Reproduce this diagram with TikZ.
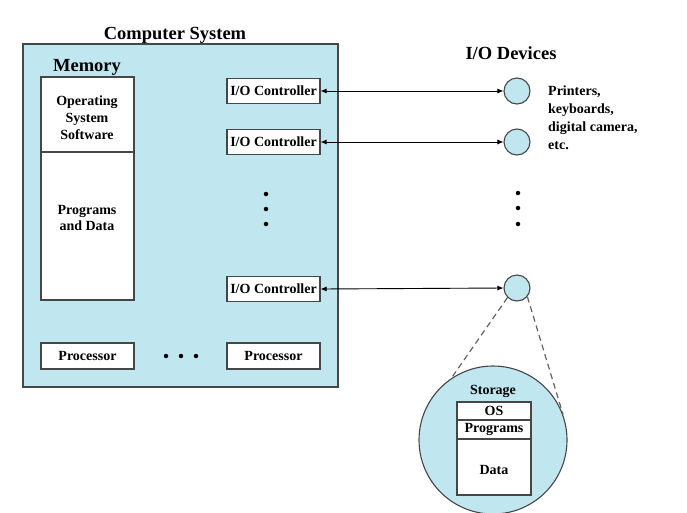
\documentclass[tikz,border=0pt]{standalone}
\usepackage{fontspec}
\setmainfont{Liberation Serif}
\usetikzlibrary{arrows.meta}
\definecolor{lb}{RGB}{192,230,240}
\definecolor{bd}{RGB}{70,70,70}
\begin{document}
\begin{tikzpicture}[x=1pt,y=-1pt,
  title/.style={font=\bfseries\fontsize{18.5}{21}\selectfont},
  lbl/.style={font=\bfseries\fontsize{14}{16.8}\selectfont, align=center, inner sep=0pt},
  wbox/.style={draw=bd, fill=white, line width=1.1pt},
  dev/.style={circle, draw=bd, fill=lb, line width=1.1pt, minimum size=26pt, inner sep=0pt},
  dot/.style={circle, fill=black, inner sep=0pt, minimum size=4.5pt},
  conn/.style={{Latex[length=6pt,width=5pt]}-{Latex[length=6pt,width=5pt]}, line width=0.9pt},
  dashline/.style={draw=bd!85, dash pattern=on 6pt off 4pt, line width=1.2pt}]
\useasboundingbox (0,0) rectangle (687,512);
% main system
\node[title] (cst) at (175,35) {Computer System};
\node[draw=bd, fill=lb, line width=1.2pt, minimum width=315pt, minimum height=343pt, inner sep=0pt] (sys) at (180.5,215.5) {};
\node[title] (mem) at (87,67) {Memory};
\node[wbox, minimum width=93pt, minimum height=75pt, inner sep=0pt] (os) at (87.5,114.5) {};
\node[lbl] at (87,117.5) {Operating\\System\\Software};
\node[wbox, minimum width=93pt, minimum height=148pt, inner sep=0pt] (pd) at (87.5,226) {};
\node[lbl] at (87,218) {Programs\\and Data};
% controllers
\node[wbox, lbl, minimum width=93pt, minimum height=25pt] (c1) at (273.5,91) {I/O Controller};
\node[wbox, lbl, minimum width=93pt, minimum height=25pt] (c2) at (273.5,142) {I/O Controller};
\node[wbox, lbl, minimum width=93pt, minimum height=25pt] (c3) at (273.5,289) {I/O Controller};
\node[dot] (d1) at (266,194) {};
\node[dot] (d2) at (266,209) {};
\node[dot] (d3) at (266,224) {};
% processors
\node[wbox, lbl, minimum width=93pt, minimum height=26pt] (p1) at (87.5,356) {Processor};
\node[wbox, lbl, minimum width=93pt, minimum height=26pt] (p2) at (273.5,356) {Processor};
\node[dot] (e1) at (166,356) {};
\node[dot] (e2) at (181,356) {};
\node[dot] (e3) at (196,356) {};
% devices
\node[title] (iod) at (511,53) {I/O Devices};
\node[dev] (v1) at (517,91) {};
\node[dev] (v2) at (517,142) {};
\node[dev] (v3) at (517,288) {};
\node[dot] (f1) at (518,193) {};
\node[dot] (f2) at (518,208) {};
\node[dot] (f3) at (518,224) {};
\node[lbl, align=left, anchor=north west, font=\bfseries\fontsize{14}{18}\selectfont] (txt) at (548,86) {Printers,\\keyboards,\\digital camera,\\etc.};
\draw[conn] (c1.east) -- (v1.west);
\draw[conn] (c2.east) -- (v2.west);
\draw[conn] (c3.east) -- (v3.west);
% storage
\node[circle, draw=bd, fill=lb, line width=1.1pt, minimum size=148pt, inner sep=0pt] (st) at (493,440) {};
\draw[dashline] (v3.225) -- (st.124);
\draw[dashline] (v3.320) -- (st.20);
\node[lbl] (stl) at (493,391) {Storage};
\node[wbox, lbl, minimum width=74pt, minimum height=18pt] (sos) at (494,411) {OS};
\node[wbox, lbl, minimum width=74pt, minimum height=19pt] (spr) at (494,429.5) {Programs};
\node[wbox, minimum width=74pt, minimum height=56pt] (sda) at (494,467) {};
\node[lbl] (sdt) at (494,470) {Data};
\end{tikzpicture}
\end{document}
